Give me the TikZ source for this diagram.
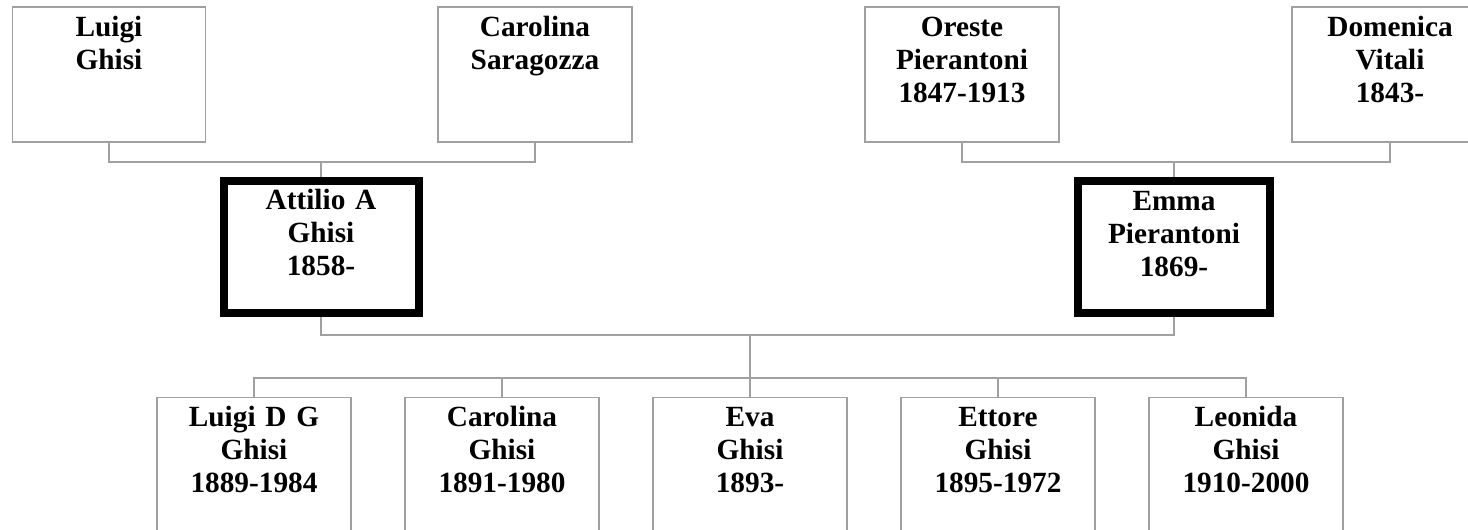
\documentclass[tikz,border=0pt]{standalone}
\usepackage{fontspec}
\setmainfont{Liberation Serif}
\usetikzlibrary{calc}
\definecolor{lineg}{RGB}{160,160,160}
\tikzset{
  person/.style={draw=lineg, line width=0.8pt, rectangle, inner sep=0pt, fill=white},
  focus/.style={draw=black, line width=4pt, rectangle, inner sep=0pt, fill=white},
  txt/.style={text width=95pt, align=center, inner sep=0pt, anchor=base,
    font=\bfseries\fontsize{14.65}{16.5}\selectfont},
  link/.style={draw=lineg, line width=0.8pt}
}
\begin{document}
\begin{tikzpicture}[x=0.5pt,y=-0.5pt]
\clip (0,0) rectangle (1468,530);
\fill[white] (0,0) rectangle (1468,530);
% top row
\node[person, minimum width=96.5pt, minimum height=67.5pt] (gf1) at (109,74.5) {};
\node[person, minimum width=97pt, minimum height=67.5pt] (gm1) at (535,74.5) {};
\node[person, minimum width=97pt, minimum height=67.5pt] (gf2) at (962,74.5) {};
\node[person, minimum width=98pt, minimum height=67.5pt] (gm2) at (1390,74.5) {};
\node[txt] at ($(gf1.north)+(0,30)$) {Luigi\\Ghisi};
\node[txt] at ($(gm1.north)+(0,30)$) {Carolina\\Saragozza};
\node[txt] at ($(gf2.north)+(0,30)$) {Oreste\\Pierantoni\\1847-1913};
\node[txt] at ($(gm2.north)+(0,30)$) {Domenica\\Vitali\\1843-};
% parents
\node[focus, minimum width=97.5pt, minimum height=66pt] (fa) at (321,247) {};
\node[focus, minimum width=96pt, minimum height=66pt] (mo) at (1174,247) {};
\node[txt] at ($(fa.north)+(0,32)$) {Attilio A\\Ghisi\\1858-};
\node[txt] at ($(mo.north)+(0,33)$) {Emma\\Pierantoni\\1869-};
% children
\node[person, minimum width=97pt, minimum height=90pt] (c1) at (254,487.5) {};
\node[person, minimum width=97pt, minimum height=90pt] (c2) at (502,487.5) {};
\node[person, minimum width=97pt, minimum height=90pt] (c3) at (750,487.5) {};
\node[person, minimum width=97pt, minimum height=90pt] (c4) at (998,487.5) {};
\node[person, minimum width=97pt, minimum height=90pt] (c5) at (1246,487.5) {};
\node[txt] at ($(c1.north)+(0,30)$) {Luigi D G\\Ghisi\\1889-1984};
\node[txt] at ($(c2.north)+(0,30)$) {Carolina\\Ghisi\\1891-1980};
\node[txt] at ($(c3.north)+(0,30)$) {Eva\\Ghisi\\1893-};
\node[txt] at ($(c4.north)+(0,30)$) {Ettore\\Ghisi\\1895-1972};
\node[txt] at ($(c5.north)+(0,30)$) {Leonida\\Ghisi\\1910-2000};
% connectors
\coordinate (m1) at (fa.north |- 0,162);
\coordinate (m2) at (mo.north |- 0,162);
\draw[link] (gf1.south) -- (gf1.south |- m1) -- (gm1.south |- m1) -- (gm1.south);
\draw[link] (m1) -- (fa.north);
\draw[link] (gf2.south) -- (gf2.south |- m2) -- (gm2.south |- m2) -- (gm2.south);
\draw[link] (m2) -- (mo.north);
\coordinate (m3) at (750,335);
\coordinate (m4) at (750,378);
\draw[link] (fa.south) -- (fa.south |- m3) -- (mo.south |- m3) -- (mo.south);
\draw[link] (m3) -- (m4);
\draw[link] (c1.north) -- (c1.north |- m4) -- (c5.north |- m4) -- (c5.north);
\draw[link] (c2.north |- m4) -- (c2.north);
\draw[link] (c3.north |- m4) -- (c3.north);
\draw[link] (c4.north |- m4) -- (c4.north);
\end{tikzpicture}
\end{document}
